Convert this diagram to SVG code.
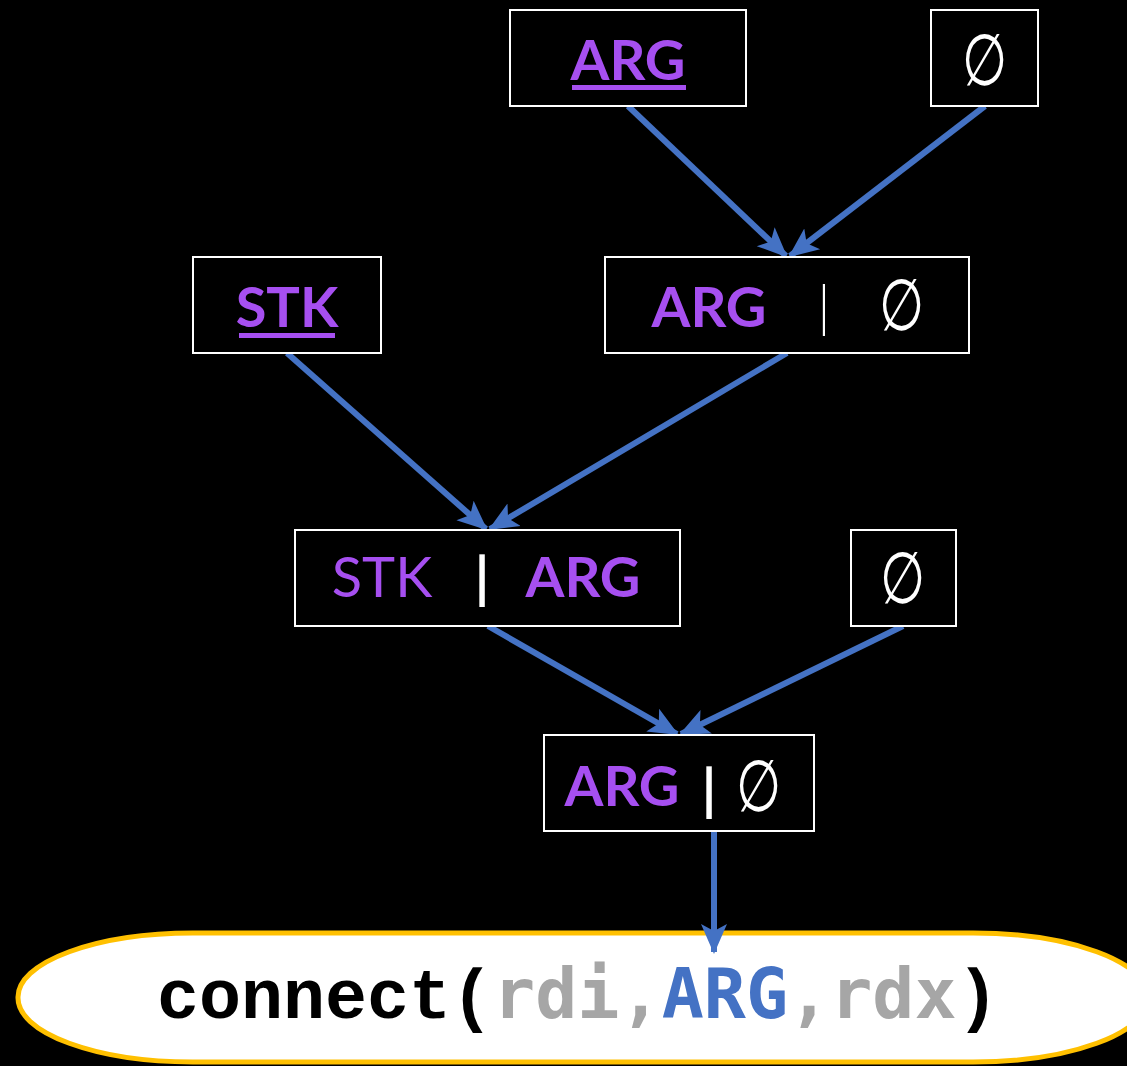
<svg xmlns="http://www.w3.org/2000/svg" width="1127" height="1066" viewBox="0 0 1127 1066">
  <style>
    .box { fill: #000; stroke: #fff; stroke-width: 2; }
    .lbl { font-family: Lato, "Liberation Sans", sans-serif; font-size: 56px; text-anchor: middle; }
    .b { font-weight: bold; }
    .purple { fill: #A64FF0; }
    .white { fill: #fff; }
    .uline { fill: #A64FF0; }
    .empty { font-family: "DejaVu Sans", sans-serif; font-size: 72px; font-weight: 200; fill: #fff; text-anchor: middle; }
    .edge { stroke: #4472C4; stroke-width: 6; fill: none; marker-end: url(#head); }
    .code { font-size: 70px; font-weight: bold; }
  </style>
  <defs>
    <marker id="head" markerUnits="userSpaceOnUse" markerWidth="30" markerHeight="30" refX="28" refY="15" orient="auto">
      <path d="M0,2 L30,15 L0,28 L7,15 Z" fill="#4472C4"/>
    </marker>
  </defs>
  <rect width="1127" height="1066" fill="#000"/>

  <!-- call target sits under the final arrow -->
  <g id="connect-call">
    <rect x="18" y="933" width="1130" height="129" rx="175" ry="64" fill="#fff" stroke="#FFC000" stroke-width="5"/>
    <text y="1018" class="code">
      <tspan x="157" font-family="'Liberation Mono', monospace" fill="#000">connect(</tspan><tspan font-family="'DejaVu Sans Mono', monospace" fill="#A6A6A6">rdi,</tspan><tspan font-family="'DejaVu Sans Mono', monospace" fill="#4472C4">ARG</tspan><tspan font-family="'DejaVu Sans Mono', monospace" fill="#A6A6A6">,rdx</tspan><tspan font-family="'Liberation Mono', monospace" fill="#000">)</tspan>
    </text>
  </g>

  <g id="connectors">
    <line class="edge" x1="628" y1="106" x2="786" y2="256"/>
    <line class="edge" x1="985" y1="106" x2="790" y2="256"/>
    <line class="edge" x1="287" y1="353" x2="486" y2="529"/>
    <line class="edge" x1="787" y1="353" x2="490" y2="529"/>
    <line class="edge" x1="488" y1="626" x2="677" y2="734"/>
    <line class="edge" x1="903" y1="626" x2="681" y2="734"/>
    <line class="edge" x1="714" y1="831" x2="714" y2="952"/>
  </g>

  <g id="arg-top">
    <rect class="box" x="510" y="10" width="236" height="96"/>
    <text class="lbl b purple" x="628" y="80">ARG</text>
    <rect class="uline" x="572" y="85" width="114" height="5"/>
  </g>

  <g id="empty-top">
    <rect class="box" x="931" y="10" width="107" height="96"/>
    <text class="empty" transform="translate(985 85) scale(0.72 1)">∅</text>
  </g>

  <g id="stk-top">
    <rect class="box" x="193" y="257" width="188" height="96"/>
    <text class="lbl b purple" x="287" y="327">STK</text>
    <rect class="uline" x="239" y="333" width="96" height="5"/>
  </g>

  <g id="arg-or-empty-upper">
    <rect class="box" x="605" y="257" width="364" height="96"/>
    <text class="lbl b purple" x="709" y="327">ARG</text>
    <text class="lbl white" x="824" y="326" font-size="44" font-weight="300">|</text>
    <text class="empty" transform="translate(902 330) scale(0.72 1)">∅</text>
  </g>

  <g id="stk-or-arg">
    <rect class="box" x="295" y="530" width="385" height="96"/>
    <text class="lbl purple" x="382" y="597">STK</text>
    <text class="lbl b white" x="482" y="598" font-size="60" font-weight="900">|</text>
    <text class="lbl b purple" x="583" y="597">ARG</text>
  </g>

  <g id="empty-mid">
    <rect class="box" x="851" y="530" width="105" height="96"/>
    <text class="empty" transform="translate(903 603) scale(0.72 1)">∅</text>
  </g>

  <g id="arg-or-empty-lower">
    <rect class="box" x="544" y="735" width="270" height="96"/>
    <text class="lbl b purple" x="622" y="806">ARG</text>
    <text class="lbl b white" x="709" y="810" font-size="62" font-weight="900">|</text>
    <text class="empty" transform="translate(759 811) scale(0.72 1)">∅</text>
  </g>
</svg>
